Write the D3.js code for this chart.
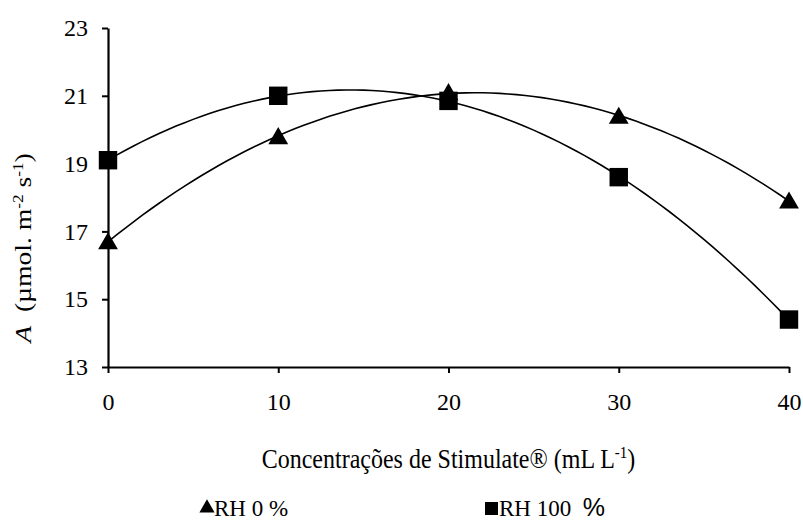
<!DOCTYPE html>
<html>
<head>
<meta charset="utf-8">
<script src="https://cdn.jsdelivr.net/npm/d3@7"></script>
<style>
  body { margin: 0; background: #fff; }
  #chart { width: 803px; height: 527px; }
  svg, svg text { font-family: "Liberation Serif", "Times New Roman", Tinos, "DejaVu Serif", serif; fill: #000; }
</style>
</head>
<body>
<div id="chart"></div>
<script>
// Data
const concentrations = [0, 10, 20, 30, 40];
const rh0 = [16.7, 19.8, 21.1, 20.4, 17.9];
const rh100 = [19.1, 21.0, 20.85, 18.6, 14.4];
const xTicks = [0, 10, 20, 30, 40];
const yTicks = [13, 15, 17, 19, 21, 23];

const serif = "'Liberation Serif', 'Times New Roman', Tinos, 'DejaVu Serif', serif";

// Least squares quadratic trend line (like the spreadsheet polynomial trendline)
function quadFit(xs, ys) {
    let s = [0, 0, 0, 0, 0], t = [0, 0, 0];
    xs.forEach((x, i) => {
        for (let k = 0; k < 5; k++) s[k] += Math.pow(x, k);
        for (let k = 0; k < 3; k++) t[k] += ys[i] * Math.pow(x, k);
    });
    const m = [
        [s[0], s[1], s[2], t[0]],
        [s[1], s[2], s[3], t[1]],
        [s[2], s[3], s[4], t[2]]
    ];
    for (let i = 0; i < 3; i++) {
        for (let j = i + 1; j < 3; j++) {
            const f = m[j][i] / m[i][i];
            for (let k = i; k < 4; k++) m[j][k] -= f * m[i][k];
        }
    }
    const c = [0, 0, 0];
    for (let i = 2; i >= 0; i--) {
        let v = m[i][3];
        for (let k = i + 1; k < 3; k++) v -= m[i][k] * c[k];
        c[i] = v / m[i][i];
    }
    return x => c[0] + c[1] * x + c[2] * x * x;
}

const margin = {top: 28, right: 14, bottom: 160, left: 108};
const width = 803 - margin.left - margin.right;
const height = 527 - margin.top - margin.bottom;

const svg = d3.select("#chart").append("svg")
    .attr("width", 803)
    .attr("height", 527)
    .attr("font-family", serif);

const g = svg.append("g")
    .attr("transform", `translate(${margin.left},${margin.top})`);

const x = d3.scaleLinear().domain([0, 40]).range([0, width]);
const y = d3.scaleLinear().domain([13, 23]).range([height, 0]);

// Axes
const yAxis = g.append("g")
    .call(d3.axisLeft(y).tickValues(yTicks).tickSize(6).tickSizeOuter(0).tickPadding(14));
const xAxis = g.append("g")
    .attr("transform", `translate(0,${height})`)
    .call(d3.axisBottom(x).tickValues(xTicks).tickSize(6).tickSizeOuter(0).tickPadding(20));

[yAxis, xAxis].forEach(a => {
    a.attr("font-family", serif).attr("font-size", 24);
    a.select(".domain").attr("stroke", "#000").attr("stroke-width", 2.2);
    a.selectAll(".tick line").attr("stroke", "#000").attr("stroke-width", 2);
    a.selectAll(".tick text")
        .style("font-family", serif)
        .style("font-size", "24px")
        .attr("fill", "#000");
});

// Trend lines
const series = [
    {name: "RH 0 %", values: rh0, symbol: d3.symbolTriangle, size: 170},
    {name: "RH 100 %", values: rh100, symbol: d3.symbolSquare, size: 340}
];

const line = d3.line()
    .x(d => x(d[0]))
    .y(d => y(d[1]));

series.forEach(s => {
    const f = quadFit(concentrations, s.values);
    const pts = d3.range(0, 40.01, 0.5).map(v => [v, f(v)]);
    g.append("path")
        .datum(pts)
        .attr("fill", "none")
        .attr("stroke", "#000")
        .attr("stroke-width", 1.6)
        .attr("d", line);
});

// Markers
series.forEach(s => {
    g.selectAll(null)
        .data(concentrations.map((c, i) => [c, s.values[i]]))
        .join("path")
        .attr("transform", d => `translate(${x(d[0])},${y(d[1]) + (s.symbol === d3.symbolTriangle ? 2 : 0)})`)
        .attr("d", d3.symbol().type(s.symbol).size(s.size))
        .attr("fill", "#000");
});

// Y axis title
const yTitle = svg.append("text")
    .attr("transform", "translate(31,248) rotate(-90) scale(1.15,1)")
    .attr("text-anchor", "middle")
    .style("font-family", serif)
    .style("font-size", "24px");
yTitle.append("tspan").style("font-style", "italic").text("A");
yTitle.append("tspan").text("\u00a0 (\u00b5mol. m");
yTitle.append("tspan").attr("dy", -8).style("font-size", "15px").text("-2");
yTitle.append("tspan").attr("dy", 8).text(" s");
yTitle.append("tspan").attr("dy", -8).style("font-size", "15px").text("-1");
yTitle.append("tspan").attr("dy", 8).text(")");

// X axis title
const xTitle = svg.append("text")
    .attr("transform", `translate(${margin.left + width / 2},468) scale(1,1.12)`)
    .attr("text-anchor", "middle")
    .style("font-family", serif)
    .style("font-size", "24px");
xTitle.append("tspan").text("Concentrações de Stimulate® (mL L");
xTitle.append("tspan").attr("dy", -9).style("font-size", "15px").text("-1");
xTitle.append("tspan").attr("dy", 9).text(")");

// Legend
const legend = svg.append("g");
legend.append("path")
    .attr("transform", "translate(207,508)")
    .attr("d", d3.symbol().type(d3.symbolTriangle).size(100))
    .attr("fill", "#000");
legend.append("text")
    .attr("x", 214).attr("y", 516)
    .style("font-family", serif)
    .style("font-size", "23px")
    .text("RH 0 %");
legend.append("rect")
    .attr("x", 485).attr("y", 502).attr("width", 13).attr("height", 13)
    .attr("fill", "#000");
const l2 = legend.append("text")
    .attr("x", 499).attr("y", 516)
    .style("font-family", serif)
    .style("font-size", "23px");
l2.append("tspan").text("RH 100\u00a0 ");
l2.append("tspan")
    .style("font-family", "'Liberation Sans', Arial, sans-serif")
    .style("font-size", "25px")
    .text("%");
</script>
</body>
</html>
